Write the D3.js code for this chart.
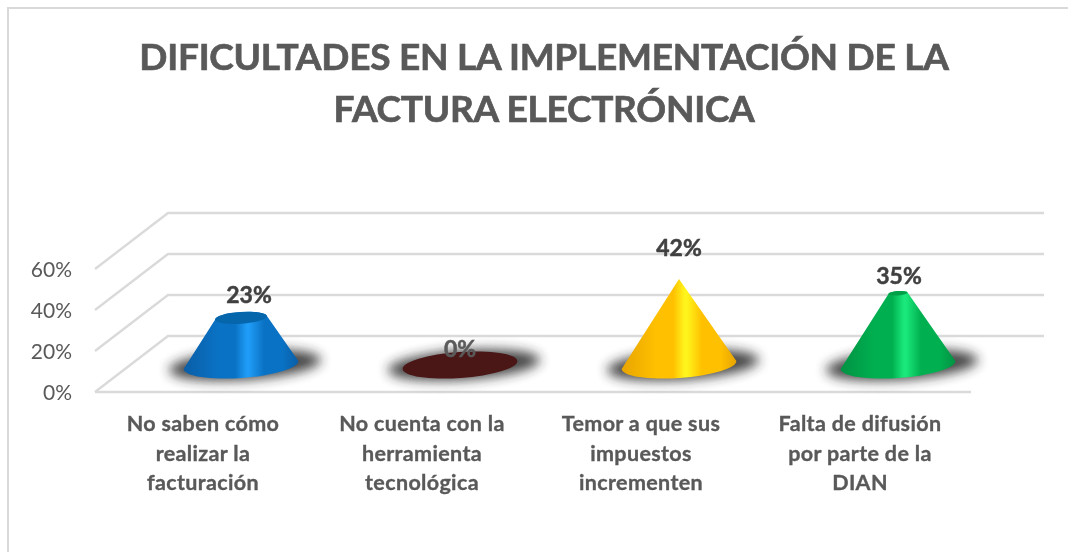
<!DOCTYPE html>
<html><head><meta charset="utf-8">
<script src="https://cdn.jsdelivr.net/npm/d3@7/dist/d3.min.js"></script>
<style>html,body{margin:0;padding:0;background:#fff}svg{display:block;filter:blur(0.35px)}text{font-family:Lato,"Open Sans",sans-serif}</style>
</head><body><svg id="c" width="1068" height="552"></svg>
<script>
const titleLines = ["DIFICULTADES EN LA IMPLEMENTACIÓN DE LA", "FACTURA ELECTRÓNICA"];
const categories = ["c0", "c1", "c2", "c3"];
const categoryLabels = [
  ["No saben cómo", "realizar la", "facturación"],
  ["No cuenta con la", "herramienta", "tecnológica"],
  ["Temor a que sus", "impuestos", "incrementen"],
  ["Falta de difusión", "por parte de la", "DIAN"]
];
const values = [0.23, 0, 0.42, 0.35];
const valueLabels = ["23%", "0%", "42%", "35%"];
const yTicks = [0, 0.2, 0.4, 0.6];
const maxValue = 0.42;
const edgeColors = ["#0a5ea6", "#4a1616", "#e8a400", "#009243"];
const bodyColors = ["#0a72c4", "#4a1616", "#ffc000", "#00b050"];
const lightColors = ["#1f9cf7", "#4a1616", "#fff51c", "#1ae87a"];
const capColors = ["#0666ac", "#4a1616", "#ffc000", "#00a048"];

const svg = d3.select("#c");
const W = 1068, H = 552;
const plot = {left: 95, right: 971, base: 392, top: 269, dx: 73, dy: 56};
const x = d3.scaleBand().domain(categories).range([plot.left, plot.right]);
const y = d3.scaleLinear().domain([0, 0.6]).range([plot.base, plot.top]);
const gridColor = "#dadada";

// chart frame
svg.append("path").attr("d", `M${W},8H8V${H}`).attr("fill", "none").attr("stroke", "#d9d9d9").attr("stroke-width", 2);

// title
svg.append("g").selectAll("text").data(titleLines).join("text")
  .attr("x", 544).attr("y", (d, i) => 70 + i * 52)
  .attr("text-anchor", "middle").attr("font-size", 37).attr("font-weight", 700)
  .attr("letter-spacing", -0.25).attr("fill", "#595959")
  .attr("stroke", "#595959").attr("stroke-width", 0.7).text(d => d);

// gridlines
const grid = svg.append("g").attr("fill", "none").attr("stroke", gridColor).attr("stroke-width", 2.4);
grid.selectAll("path").data(yTicks).join("path").attr("d", d => {
  const yy = y(d);
  return `M${plot.left},${yy}L${plot.left + plot.dx},${yy - plot.dy}H${plot.right + plot.dx}`;
});
grid.append("path").attr("d", `M${plot.left},${plot.base}H${plot.right}`);

// y axis labels
const axis = svg.append("g").attr("transform", `translate(${plot.left - 23},0.8)`)
  .call(d3.axisLeft(y).tickValues(yTicks).tickFormat(d3.format(".0%")).tickSize(0).tickPadding(0));
axis.select(".domain").remove();
axis.selectAll("text").attr("font-size", 21).attr("fill", "#595959").style("font-family", "Lato,sans-serif");

// defs
const defs = svg.append("defs");
defs.append("filter").attr("id", "blur").attr("x", "-30%").attr("y", "-70%").attr("width", "160%").attr("height", "240%")
  .append("feGaussianBlur").attr("stdDeviation", 6);
categories.forEach((c, i) => {
  const g = defs.append("linearGradient").attr("id", "g" + i);
  [[0, edgeColors[i]], [0.3, bodyColors[i]], [0.45, bodyColors[i]], [0.55, lightColors[i]], [0.57, lightColors[i]], [0.7, bodyColors[i]], [0.86, bodyColors[i]], [1, edgeColors[i]]]
    .forEach(s => g.append("stop").attr("offset", s[0]).attr("stop-color", s[1]));
});

// cones
const rx = 57.5, ry = 13, tilt = 4, floorY = 365;
const t = tilt * Math.PI / 180;
const cx = c => x(c) + x.bandwidth() / 2 + plot.dx / 2;
const topScale = d3.scaleLinear().domain([0, maxValue]).range([1, 0]);
const h = v => plot.base - y(v);
const cones = svg.append("g").selectAll("g").data(categories).join("g");

cones.append("ellipse")
  .attr("cx", c => cx(c) + 4).attr("cy", floorY).attr("rx", 76).attr("ry", 15)
  .attr("transform", c => `rotate(${-tilt} ${cx(c) + 4} ${floorY})`)
  .attr("fill", "#262626").attr("opacity", 0.85).attr("filter", "url(#blur)");

cones.append("path").attr("fill", (c, i) => `url(#g${i})`).attr("d", (c, i) => {
  const v = values[i], X = cx(c), r2 = rx * topScale(v), q2 = ry * topScale(v);
  const topY = floorY - h(v);
  if (v === 0) return `M${X - rx * Math.cos(t)},${floorY + rx * Math.sin(t)}A${rx},${ry} ${-tilt} 1 0 ${X + rx * Math.cos(t)},${floorY - rx * Math.sin(t)}A${rx},${ry} ${-tilt} 1 0 ${X - rx * Math.cos(t)},${floorY + rx * Math.sin(t)}Z`;
  return `M${X - r2 * Math.cos(t)},${topY + r2 * Math.sin(t)}`
    + `L${X - rx * Math.cos(t)},${floorY + rx * Math.sin(t)}`
    + `A${rx},${ry} ${-tilt} 0 0 ${X + rx * Math.cos(t)},${floorY - rx * Math.sin(t)}`
    + `L${X + r2 * Math.cos(t)},${topY - r2 * Math.sin(t)}`
    + `A${r2},${q2} ${-tilt} 0 0 ${X - r2 * Math.cos(t)},${topY + r2 * Math.sin(t)}Z`;
});

cones.filter((c, i) => values[i] > 0 && topScale(values[i]) > 0.01).append("ellipse")
  .attr("cx", c => cx(c))
  .attr("cy", c => floorY - h(values[categories.indexOf(c)]))
  .attr("rx", c => rx * topScale(values[categories.indexOf(c)]))
  .attr("ry", c => ry * topScale(values[categories.indexOf(c)]))
  .attr("transform", c => `rotate(${-tilt} ${cx(c)} ${floorY - h(values[categories.indexOf(c)])})`)
  .attr("fill", c => capColors[categories.indexOf(c)]);

// value labels
const labelShift = [[8, -42], [0, -35], [0, -50], [1, -36]];
svg.append("g").selectAll("text").data(categories).join("text")
  .attr("x", (c, i) => cx(c) + labelShift[i][0])
  .attr("y", (c, i) => y(values[i]) + labelShift[i][1])
  .attr("text-anchor", "middle").attr("font-size", 23).attr("font-weight", 700)
  .attr("stroke-width", 0.5)
  .attr("stroke", (c, i) => values[i] === 0 ? "#5a5a5a" : "#404040")
  .attr("fill", (c, i) => values[i] === 0 ? "#5a5a5a" : "#404040").text((c, i) => valueLabels[i]);

// category labels
svg.append("g").selectAll("text").data(categories).join("text")
  .attr("text-anchor", "middle").attr("font-size", 21.5).attr("font-weight", 700)
  .attr("letter-spacing", 0.35).attr("fill", "#595959")
  .attr("stroke", "#595959").attr("stroke-width", 0.35)
  .each(function (c, i) {
    d3.select(this).selectAll("tspan").data(categoryLabels[i]).join("tspan")
      .attr("x", x(c) + x.bandwidth() / 2 - 1.5)
      .attr("y", (d, j) => 431 + j * 29.5).text(d => d);
  });
</script></body></html>
